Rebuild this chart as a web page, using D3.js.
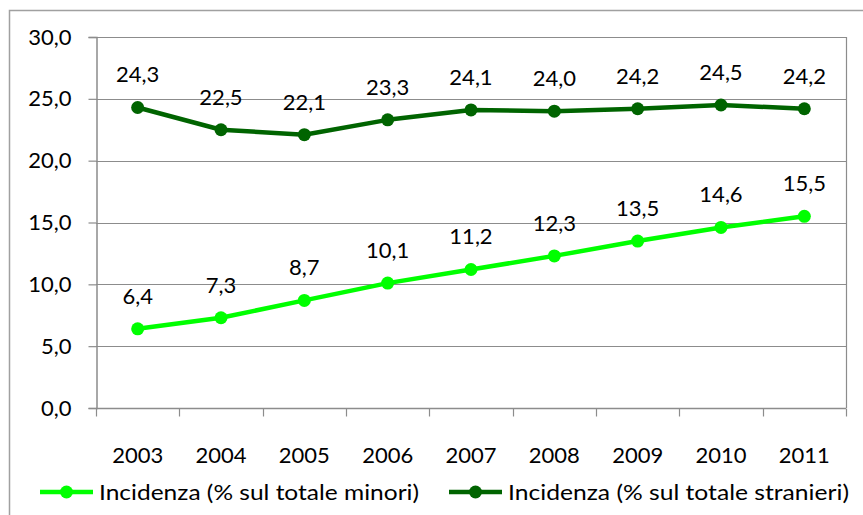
<html>
<head>
<title>Incidenza</title>
<script src="https://cdnjs.cloudflare.com/ajax/libs/d3/7.8.5/d3.min.js"></script>
<style>
body { margin: 0; background: #fff; }
text { font-family: Lato, "Open Sans", sans-serif; fill: #000; }
</style>
</head>
<body>
<svg id="chart" width="863" height="515"></svg>
<script>
var years = ['2003', '2004', '2005', '2006', '2007', '2008', '2009', '2010', '2011'];
var minori = [6.4, 7.3, 8.7, 10.1, 11.2, 12.3, 13.5, 14.6, 15.5];
var stranieri = [24.3, 22.5, 22.1, 23.3, 24.1, 24.0, 24.2, 24.5, 24.2];
var yTicks = [0, 5, 10, 15, 20, 25, 30];
var seriesNames = ['Incidenza (% sul totale minori)', 'Incidenza (% sul totale stranieri)'];
var seriesColors = ['#00ff00', '#006400'];

var svg = d3.select('#chart');
var fmt = function (v) { return d3.format('.1f')(v).replace('.', ','); };

// outer frame
svg.append('rect').attr('x', 9.5).attr('y', 10.5).attr('width', 870).attr('height', 520)
    .attr('fill', 'none').attr('stroke', '#a0a0a0').attr('stroke-width', 1.5);

var plotLeft = 96, plotRight = 846, plotTop = 37, plotBottom = 408;

var x = d3.scaleBand().domain(years).range([plotLeft, plotRight]);
var y = d3.scaleLinear().domain([0, 30]).range([plotBottom, plotTop]);

// gridlines
svg.append('g').selectAll('line').data(yTicks).enter().append('line')
    .attr('x1', plotLeft).attr('x2', plotRight)
    .attr('y1', function (d) { return Math.round(y(d)) + 0.5; })
    .attr('y2', function (d) { return Math.round(y(d)) + 0.5; })
    .attr('stroke', '#8c8c8c').attr('stroke-width', 1.2);

// right border of plot
svg.append('line').attr('x1', plotRight + 0.5).attr('x2', plotRight + 0.5).attr('y1', plotTop).attr('y2', plotBottom)
    .attr('stroke', '#8c8c8c').attr('stroke-width', 1.2);

// y axis
var yAxis = d3.axisLeft(y).tickValues(yTicks).tickFormat(fmt).tickSize(8).tickPadding(17);
var gy = svg.append('g').attr('transform', 'translate(' + (plotLeft + 0.5) + ',0)').call(yAxis);
gy.select('.domain').attr('stroke', '#8c8c8c').attr('stroke-width', 1.5);
gy.selectAll('.tick line').attr('stroke', '#8c8c8c').attr('stroke-width', 1.2);
gy.selectAll('.tick text').style('font-size', '22px').style('font-family', 'Lato, sans-serif').attr('fill', '#000');

// x axis: ticks on band boundaries
var gx = svg.append('g').attr('transform', 'translate(0,' + (plotBottom + 0.5) + ')');
gx.append('line').attr('x1', plotLeft).attr('x2', plotRight).attr('stroke', '#8c8c8c').attr('stroke-width', 1.5);
var bounds = years.map(function (d) { return x(d); }).concat([plotRight]);
gx.selectAll('line.tk').data(bounds).enter().append('line').attr('class', 'tk')
    .attr('x1', function (d) { return Math.round(d) + 0.5; })
    .attr('x2', function (d) { return Math.round(d) + 0.5; })
    .attr('y1', 0).attr('y2', 8)
    .attr('stroke', '#8c8c8c').attr('stroke-width', 1.2);
gx.selectAll('text').data(years).enter().append('text')
    .attr('x', function (d) { return x(d) + x.bandwidth() / 2; })
    .attr('y', 54)
    .attr('text-anchor', 'middle')
    .style('font-size', '22px')
    .text(function (d) { return d; });

// series
var series = [minori, stranieri];
var line = d3.line()
    .x(function (d, i) { return x(years[i]) + x.bandwidth() / 2; })
    .y(function (d) { return y(d); });

series.forEach(function (vals, s) {
    var g = svg.append('g');
    g.append('path').datum(vals).attr('d', line)
        .attr('fill', 'none').attr('stroke', seriesColors[s]).attr('stroke-width', 4.5)
        .attr('stroke-linejoin', 'round');
    g.selectAll('circle').data(vals).enter().append('circle')
        .attr('cx', function (d, i) { return x(years[i]) + x.bandwidth() / 2; })
        .attr('cy', function (d) { return y(d); })
        .attr('r', 6.5)
        .attr('fill', seriesColors[s]);
    g.selectAll('text').data(vals).enter().append('text')
        .attr('x', function (d, i) { return x(years[i]) + x.bandwidth() / 2; })
        .attr('y', function (d) { return y(d) - 25; })
        .attr('text-anchor', 'middle')
        .style('font-size', '22px')
        .text(fmt);
});

// legend
var legendX = [40, 449];
var legendW = [320, 341];
seriesNames.forEach(function (name, s) {
    var g = svg.append('g').attr('transform', 'translate(' + legendX[s] + ',492)');
    g.append('line').attr('x1', 0).attr('x2', 53).attr('y1', 0).attr('y2', 0)
        .attr('stroke', seriesColors[s]).attr('stroke-width', 4.5);
    g.append('circle').attr('cx', 26.5).attr('cy', 0).attr('r', 6.5).attr('fill', seriesColors[s]);
    g.append('text').attr('x', 59).attr('y', 8)
        .attr('textLength', legendW[s]).attr('lengthAdjust', 'spacingAndGlyphs')
        .style('font-size', '22px')
        .text(name);
});
</script>
</body>
</html>
